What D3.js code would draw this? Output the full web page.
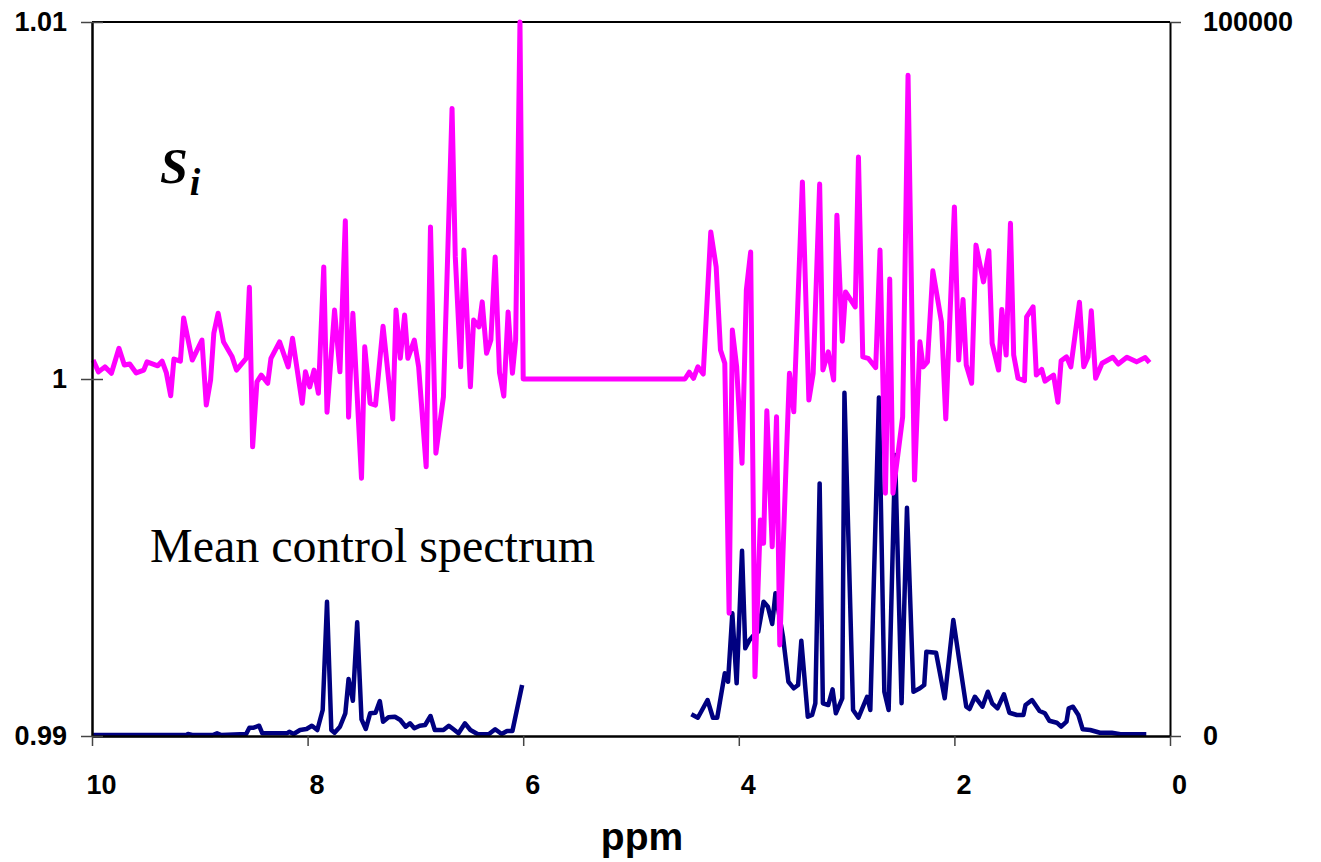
<!DOCTYPE html>
<html>
<head>
<meta charset="utf-8">
<script src="https://cdn.jsdelivr.net/npm/d3@7"></script>
<style>
  html, body { margin: 0; padding: 0; background: #fff; }
  svg { display: block; }
</style>
</head>
<body>
<div id="chart"></div>
<script>
// S_i ratio (left axis)
const siPpm = [9.99, 9.94, 9.88, 9.82, 9.75, 9.70, 9.65, 9.59, 9.52, 9.49, 9.39, 9.35, 9.31, 9.27, 9.24, 9.18, 9.15, 9.07, 8.98, 8.94,
  8.90, 8.87, 8.83, 8.78, 8.70, 8.66, 8.57, 8.54, 8.51, 8.47, 8.43, 8.37, 8.34, 8.26, 8.18, 8.14, 8.05, 8.02, 7.98, 7.94,
  7.90, 7.85, 7.82, 7.75, 7.70, 7.65, 7.62, 7.58, 7.50, 7.47, 7.42, 7.37, 7.30, 7.21, 7.18, 7.14, 7.10, 7.07, 7.01, 6.97,
  6.90, 6.86, 6.81, 6.74, 6.70, 6.66, 6.63, 6.58, 6.55, 6.49, 6.46, 6.41, 6.38, 6.34, 6.30, 6.26, 6.22, 6.18, 6.14, 6.10,
  6.07, 6.03, 6.00, 4.50, 4.46, 4.42, 4.38, 4.33, 4.26, 4.21, 4.17, 4.13, 4.09, 4.06, 4.02, 3.97, 3.93, 3.89, 3.85, 3.80,
  3.77, 3.74, 3.69, 3.65, 3.62, 3.56, 3.53, 3.49, 3.41, 3.35, 3.31, 3.25, 3.22, 3.17, 3.12, 3.09, 3.04, 3.01, 2.92, 2.89,
  2.85, 2.80, 2.73, 2.69, 2.64, 2.60, 2.57, 2.48, 2.43, 2.37, 2.32, 2.29, 2.25, 2.20, 2.12, 2.08, 2.00, 1.96, 1.92, 1.89,
  1.84, 1.80, 1.73, 1.68, 1.65, 1.59, 1.56, 1.52, 1.48, 1.45, 1.41, 1.35, 1.33, 1.27, 1.24, 1.19, 1.16, 1.08, 1.04, 1.01,
  0.96, 0.92, 0.84, 0.80, 0.76, 0.73, 0.69, 0.63, 0.53, 0.48, 0.40, 0.31, 0.23, 0.19];
const siVal = [1.00053, 1.00020, 1.00034, 1.00016, 1.00086, 1.00039, 1.00042, 1.00017, 1.00025, 1.00048, 1.00037, 1.00050, 1.00017, 0.99953, 1.00056, 1.00050, 1.00171, 1.00053, 1.00109, 0.99927,
  0.99997, 1.00128, 1.00184, 1.00104, 1.00062, 1.00025, 1.00058, 1.00257, 0.99810, 0.99992, 1.00011, 0.99988, 1.00058, 1.00104, 1.00034, 1.00114, 0.99932, 1.00020, 0.99978, 1.00025,
  0.99960, 1.00314, 0.99907, 1.00193, 1.00020, 1.00443, 0.99893, 1.00184, 0.99722, 1.00090, 0.99932, 0.99927, 1.00148, 0.99888, 1.00193, 1.00058, 1.00179, 1.00058, 1.00109, 1.00034,
  0.99754, 1.00426, 0.99792, 0.99950, 1.00352, 1.00758, 1.00342, 1.00034, 1.00361, 0.99978, 1.00165, 1.00146, 1.00216, 1.00072, 1.00109, 1.00342, 1.00018, 0.99952, 1.00188, 1.00016,
  1.00109, 1.01000, 1.00000, 1.00000, 1.00019, 1.00002, 1.00034, 1.00014, 1.00412, 1.00314, 1.00081, 1.00044, 0.99344, 1.00137, 1.00034, 0.99764, 1.00249, 1.00356, 0.99166, 0.99605,
  0.99540, 0.99911, 0.99530, 0.99894, 0.99255, 0.99773, 1.00016, 0.99908, 1.00552, 0.99941, 1.00016, 1.00546, 1.00025, 1.00076, 0.99997, 1.00459, 1.00106, 1.00244, 1.00202, 1.00622,
  1.00062, 1.00058, 1.00032, 1.00361, 0.99680, 1.00280, 0.99680, 0.99894, 1.00851, 0.99717, 1.00104, 1.00034, 1.00048, 1.00303, 1.00160, 0.99888, 1.00482, 1.00053, 1.00223, 1.00039,
  0.99988, 1.00375, 1.00272, 1.00359, 1.00100, 1.00025, 1.00195, 1.00067, 1.00436, 1.00067, 1.00002, 0.99995, 1.00174, 1.00202, 1.00011, 1.00027, 0.99994, 1.00011, 0.99935, 1.00051,
  1.00062, 1.00034, 1.00215, 1.00034, 1.00062, 1.00191, 1.00002, 1.00044, 1.00061, 1.00042, 1.00061, 1.00048, 1.00060, 1.00046];

// mean control spectrum (right axis), null = water region removed
const ctrlPpm = [9.99, 9.12, 9.11, 9.07, 8.88, 8.84, 8.80, 8.57, 8.54, 8.50, 8.45, 8.42, 8.19, 8.17, 8.13, 8.07, 8.01, 7.96, 7.91, 7.86,
  7.82, 7.78, 7.75, 7.70, 7.65, 7.62, 7.58, 7.54, 7.50, 7.46, 7.42, 7.37, 7.33, 7.30, 7.25, 7.19, 7.14, 7.09, 7.05, 7.01,
  6.96, 6.91, 6.86, 6.82, 6.74, 6.69, 6.65, 6.60, 6.54, 6.49, 6.42, 6.32, 6.26, 6.20, 6.15, 6.10, 6.01, 5.20, 4.44, 4.38,
  4.29, 4.24, 4.20, 4.13, 4.10, 4.06, 4.02, 3.97, 3.94, 3.90, 3.86, 3.82, 3.77, 3.73, 3.69, 3.66, 3.59, 3.54, 3.49, 3.45,
  3.42, 3.36, 3.32, 3.29, 3.25, 3.22, 3.17, 3.13, 3.10, 3.04, 3.02, 2.94, 2.89, 2.81, 2.78, 2.70, 2.65, 2.61, 2.55, 2.49,
  2.44, 2.38, 2.32, 2.28, 2.26, 2.17, 2.09, 2.01, 1.96, 1.89, 1.86, 1.81, 1.74, 1.69, 1.65, 1.60, 1.54, 1.49, 1.42, 1.36,
  1.34, 1.28, 1.21, 1.16, 1.12, 1.05, 1.01, 0.96, 0.94, 0.90, 0.85, 0.81, 0.74, 0.65, 0.54, 0.46, 0.34, 0.22];
const ctrlVal = [140, 140, 280, 140, 140, 380, 140, 280, 1160, 1160, 1440, 380, 380, 600, 280, 840, 980, 1440, 840, 3640,
  18800, 840, 460, 1300, 3180, 7980, 4940, 15920, 2340, 980, 3180, 3260, 4900, 2000, 2620, 2700, 2240, 1300, 1780, 1080,
  1440, 1540, 2800, 840, 840, 1440, 980, 380, 1780, 840, 240, 240, 940, 280, 700, 700, 7140, null, 3040, 2560,
  5040, 2560, 2560, 8780, 7600, 17180, 7380, 25940, 12280, 13440, 14140, 14600, 18800, 18100, 15680, 19980, 13900, 7600, 6680, 7140,
  13340, 2700, 2940, 4580, 35380, 4580, 4340, 6540, 3180, 5280, 48080, 3640, 2560, 5500, 3640, 47420, 6200, 3640, 39340, 4580,
  31960, 6200, 6680, 7140, 11800, 11660, 5280, 16240, 11100, 4100, 3780, 5500, 4100, 6200, 4580, 3880, 5840, 3260, 2940, 2940,
  4340, 5040, 3500, 3180, 2140, 1860, 1300, 2000, 3880, 4100, 2940, 940, 840, 460, 460, 240, 240, 240];

const xTicks = [10, 8, 6, 4, 2, 0];
const leftTicks = [0.99, 1, 1.01];
const rightTicks = [0, 100000];

const width = 1321, height = 862;
const plot = { left: 92, right: 1170, top: 22, bottom: 736 };

const svg = d3.select("#chart")
  .append("svg")
  .attr("width", width)
  .attr("height", height);

const x = d3.scaleLinear().domain([10, 0]).range([plot.left, plot.right]);
const yL = d3.scaleLinear().domain([0.99, 1.01]).range([plot.bottom, plot.top]);
const yR = d3.scaleLinear().domain([0, 100000]).range([plot.bottom, plot.top]);

const si = siPpm.map((p, i) => ({ p, v: siVal[i] }));
const ctrl = ctrlPpm.map((p, i) => ({ p, v: ctrlVal[i] }));

// top border of plot area
svg.append("line")
  .attr("x1", plot.left).attr("x2", plot.right)
  .attr("y1", plot.top).attr("y2", plot.top)
  .attr("stroke", "#000").attr("stroke-width", 2);

// lines
svg.append("path")
  .datum(ctrl)
  .attr("fill", "none")
  .attr("stroke", "#000080")
  .attr("stroke-width", 4.5)
  .attr("stroke-linejoin", "round")
  .attr("d", d3.line().defined(d => d.v != null).x(d => x(d.p)).y(d => yR(d.v)));

svg.append("path")
  .datum(si)
  .attr("fill", "none")
  .attr("stroke", "#ff00ff")
  .attr("stroke-width", 5)
  .attr("stroke-linejoin", "round")
  .attr("d", d3.line().x(d => x(d.p)).y(d => yL(d.v)));

// axes
const fontAxis = "'Liberation Sans', Arial, sans-serif";

const xAxis = svg.append("g")
  .attr("transform", `translate(0,${plot.bottom})`)
  .call(d3.axisBottom(x).tickValues(xTicks).tickSize(10).tickSizeOuter(0).tickFormat(d3.format("d")));
xAxis.select(".domain").attr("stroke", "#000").attr("stroke-width", 2.5);
xAxis.selectAll(".tick line").attr("stroke", "#444").attr("stroke-width", 1.5);
xAxis.selectAll(".tick text")
  .attr("font-family", fontAxis).attr("font-weight", "bold").attr("font-size", 27)
  .attr("fill", "#000").attr("dx", 9).attr("dy", 0).attr("y", 58);

const lAxis = svg.append("g")
  .attr("transform", `translate(${plot.left},0)`)
  .call(d3.axisLeft(yL).tickValues(leftTicks).tickSize(11).tickSizeOuter(0).tickFormat(d => String(d)));
lAxis.select(".domain").attr("stroke", "#000").attr("stroke-width", 2.5);
lAxis.selectAll(".tick line").attr("x2", -11).attr("x1", 11).attr("stroke", "#444").attr("stroke-width", 1.5);
lAxis.selectAll(".tick text")
  .attr("font-family", fontAxis).attr("font-weight", "bold").attr("font-size", 27)
  .attr("fill", "#000").attr("x", -25);

const rAxis = svg.append("g")
  .attr("transform", `translate(${plot.right},0)`)
  .call(d3.axisRight(yR).tickValues(rightTicks).tickSize(11).tickSizeOuter(0).tickFormat(d3.format("d")));
rAxis.select(".domain").attr("stroke", "#000").attr("stroke-width", 2);
rAxis.selectAll(".tick line").attr("stroke", "#444").attr("stroke-width", 1.5);
rAxis.selectAll(".tick text")
  .attr("font-family", fontAxis).attr("font-weight", "bold").attr("font-size", 27)
  .attr("fill", "#000").attr("x", 33);

// axis title
svg.append("text")
  .attr("x", 642).attr("y", 850)
  .attr("text-anchor", "middle")
  .attr("font-family", fontAxis).attr("font-weight", "bold").attr("font-size", 39)
  .text("ppm");

// annotations
const siLabel = svg.append("text")
  .attr("x", 160).attr("y", 183)
  .attr("font-family", "'Liberation Serif', 'Times New Roman', serif")
  .attr("font-weight", "bold").attr("font-style", "italic");
siLabel.append("tspan").attr("font-size", 50).text("S");
siLabel.append("tspan").attr("font-size", 38).attr("dx", 2).attr("dy", 12).text("i");

svg.append("text")
  .attr("x", 150).attr("y", 562)
  .attr("font-family", "'Liberation Serif', 'Times New Roman', serif")
  .attr("font-size", 48)
  .text("Mean control spectrum");
</script>
</body>
</html>
